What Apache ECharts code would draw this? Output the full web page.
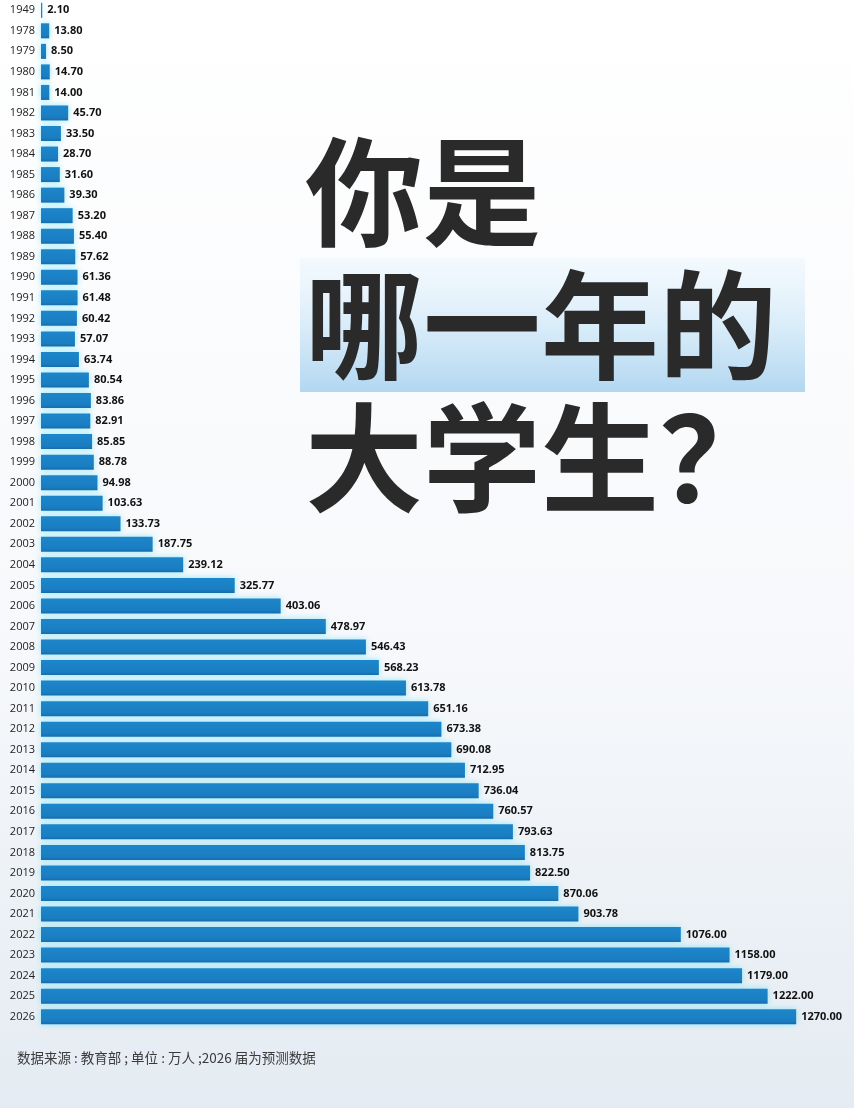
<!DOCTYPE html>
<html>
<head>
<meta charset="utf-8">
<title>你是哪一年的大学生？</title>
<script src="https://cdn.jsdelivr.net/npm/echarts@6/dist/echarts.min.js"></script>
<style>
  html, body { margin: 0; padding: 0; }
  #chart { width: 854px; height: 1108px; }
</style>
</head>
<body>
<div id="chart"></div>
<script>
// 年份（自上而下）
const years = [
  '1949', '1978', '1979', '1980', '1981', '1982', '1983', '1984', '1985', '1986',
  '1987', '1988', '1989', '1990', '1991', '1992', '1993', '1994', '1995', '1996',
  '1997', '1998', '1999', '2000', '2001', '2002', '2003', '2004', '2005', '2006',
  '2007', '2008', '2009', '2010', '2011', '2012', '2013', '2014', '2015', '2016',
  '2017', '2018', '2019', '2020', '2021', '2022', '2023', '2024', '2025', '2026'
]
// 高校毕业生人数（万人）
const graduates = [
  2.10, 13.80, 8.50, 14.70, 14.00, 45.70, 33.50, 28.70, 31.60, 39.30,
  53.20, 55.40, 57.62, 61.36, 61.48, 60.42, 57.07, 63.74, 80.54, 83.86,
  82.91, 85.85, 88.78, 94.98, 103.63, 133.73, 187.75, 239.12, 325.77, 403.06,
  478.97, 546.43, 568.23, 613.78, 651.16, 673.38, 690.08, 712.95, 736.04, 760.57,
  793.63, 813.75, 822.50, 870.06, 903.78, 1076.00, 1158.00, 1179.00, 1222.00, 1270.00
]
const titleLines = ['你是', '哪一年的', '大学生？']
const footNote = '数据来源 : 教育部 ; 单位 : 万人 ;2026 届为预测数据'

const chart = echarts.init(document.getElementById('chart'))

const titleFont = 'bold 118px "Noto Sans CJK SC", sans-serif'
const titleY = [192, 325, 458]

const option = {
  backgroundColor: new echarts.graphic.LinearGradient(0, 0, 0, 1, [
    { offset: 0, color: '#ffffff' },
    { offset: 0.6, color: '#f6f8fb' },
    { offset: 1, color: '#e4ebf2' }
  ]),
  animation: false,
  grid: { left: 41, top: 0, width: 773, height: 1027 },
  xAxis: {
    type: 'value',
    min: 0,
    max: 1300,
    show: false
  },
  yAxis: {
    type: 'category',
    data: years,
    inverse: true,
    axisLine: { show: false },
    axisTick: { show: false },
    axisLabel: {
      margin: 6,
      fontSize: 11,
      color: '#222',
      fontFamily: '"Open Sans", sans-serif'
    }
  },
  series: [{
    type: 'bar',
    data: graduates,
    barWidth: 15,
    itemStyle: {
      color: new echarts.graphic.LinearGradient(0, 0, 0, 1, [
        { offset: 0, color: '#1d86ca' },
        { offset: 0.8, color: '#1a7dc2' },
        { offset: 1, color: '#156aa8' }
      ]),
      shadowColor: 'rgba(110, 225, 250, 0.75)',
      shadowBlur: 6
    },
    label: {
      show: true,
      position: 'right',
      distance: 5,
      fontSize: 11,
      fontWeight: 'bold',
      color: '#111',
      fontFamily: '"Open Sans", sans-serif',
      formatter: (p) => p.value.toFixed(2)
    }
  }],
  graphic: [
    {
      type: 'rect',
      z: 10,
      shape: { x: 300, y: 258, width: 505, height: 134 },
      style: {
        fill: new echarts.graphic.LinearGradient(0, 0, 0, 1, [
          { offset: 0, color: 'rgba(235, 246, 253, 0.5)' },
          { offset: 0.5, color: 'rgba(214, 235, 249, 0.9)' },
          { offset: 1, color: '#b2d7f1' }
        ])
      }
    },
    ...titleLines.map((t, i) => ({
      type: 'text',
      z: 20,
      x: 305,
      y: titleY[i],
      style: {
        text: t,
        font: titleFont,
        fill: '#2a2a2a',
        verticalAlign: 'middle'
      }
    })),
    {
      type: 'text',
      z: 20,
      x: 17,
      y: 1058,
      style: {
        text: footNote,
        font: '13.5px "Noto Sans CJK SC", sans-serif',
        fill: '#3a3a3a',
        verticalAlign: 'middle'
      }
    }
  ]
}

chart.setOption(option)
</script>
</body>
</html>
